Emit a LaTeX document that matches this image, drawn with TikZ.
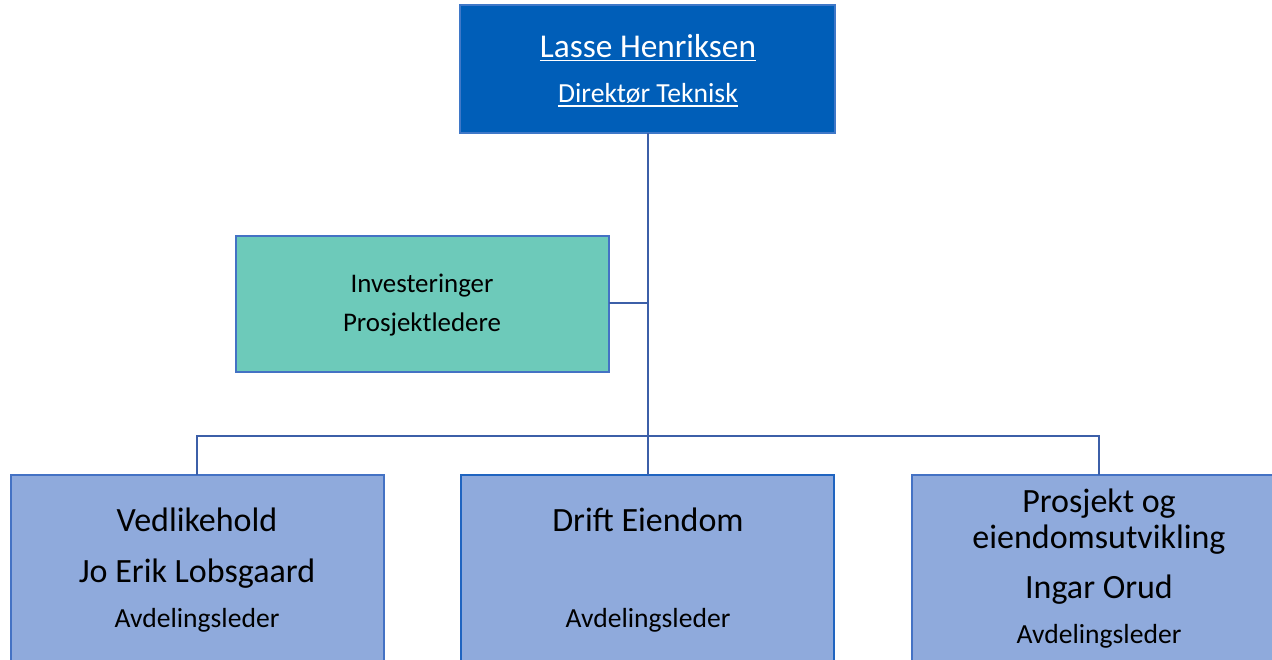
\documentclass[tikz,border=0pt]{standalone}
\usepackage{fontspec}
\setmainfont{Carlito}
\definecolor{topblue}{HTML}{005EB8}
\definecolor{topedge}{HTML}{3F78C8}
\definecolor{greenfill}{HTML}{6DCABA}
\definecolor{boxfill}{HTML}{8FAADC}
\definecolor{boxedge}{HTML}{4472C4}
\definecolor{midedge}{HTML}{1F64C0}
\definecolor{linkc}{HTML}{3C5FA8}
\begin{document}
\begin{tikzpicture}[x=1pt,y=-1pt,
  box/.style={draw=boxedge,line width=2.2pt,fill=boxfill},
  link/.style={draw=linkc,line width=2.6pt},
  big/.style={font=\fontsize{34}{40}\selectfont,anchor=base,inner sep=0pt},
  mid/.style={font=\fontsize{27.6}{32}\selectfont,anchor=base,inner sep=0pt},
  gtxt/.style={font=\fontsize{26.9}{32}\selectfont,anchor=base,inner sep=0pt},
  wtext/.style={text=white}]
\useasboundingbox (0,0) rectangle (1272,659);
\clip (0,0) rectangle (1272,659);
% boxes
\path[fill=topblue,draw=topedge,line width=1.2pt] (460,5) rectangle (835,133);
\coordinate (topb) at (648,133);
\path[draw=boxedge,line width=2.2pt,fill=greenfill] (236,236) rectangle (609,372);
\coordinate (grr) at (609,303);
\path[box] (11,475) rectangle (384,700);
\path[box,draw=midedge] (461,475) rectangle (834,700);
\path[box] (912,475) rectangle (1300,700);
\coordinate (lt) at (197,475);
\coordinate (mt) at (648,475);
\coordinate (rt) at (1099,475);
\coordinate (bj) at (648,436);
\coordinate (gj) at (648,303);
% connectors
\draw[link] (topb) -- (mt);
\draw[link] (grr) -- (gj);
\draw[link] (lt) |- (bj) -| (rt);
% top text
\node[big,wtext,font=\fontsize{33.3}{40}\selectfont] (t1) at (648,57) {Lasse Henriksen};
\node[mid,wtext] (t2) at (648,102) {Direktør Teknisk};
\draw[white,line width=1.5pt] ([yshift=-3.5pt]t1.base west) -- ([yshift=-3.5pt]t1.base east);
\draw[white,line width=1.4pt] ([yshift=-4pt]t2.base west) -- ([yshift=-4pt]t2.base east);
% green text
\node[gtxt] (g1) at (422,292) {Investeringer};
\node[gtxt] (g2) at (422,331) {Prosjektledere};
% left
\node[big] (l1) at (197,531) {Vedlikehold};
\node[big] (l2) at (197,582) {Jo Erik Lobsgaard};
\node[mid] (l3) at (197,627) {Avdelingsleder};
% middle
\node[big] (m1) at (648,531) {Drift Eiendom};
\node[mid] (m2) at (648,627) {Avdelingsleder};
% right
\node[big] (r1) at (1099,512) {Prosjekt og};
\node[big] (r2) at (1099,548) {eiendomsutvikling};
\node[big] (r3) at (1099,598) {Ingar Orud};
\node[mid] (r4) at (1099,643) {Avdelingsleder};
\end{tikzpicture}
\end{document}
